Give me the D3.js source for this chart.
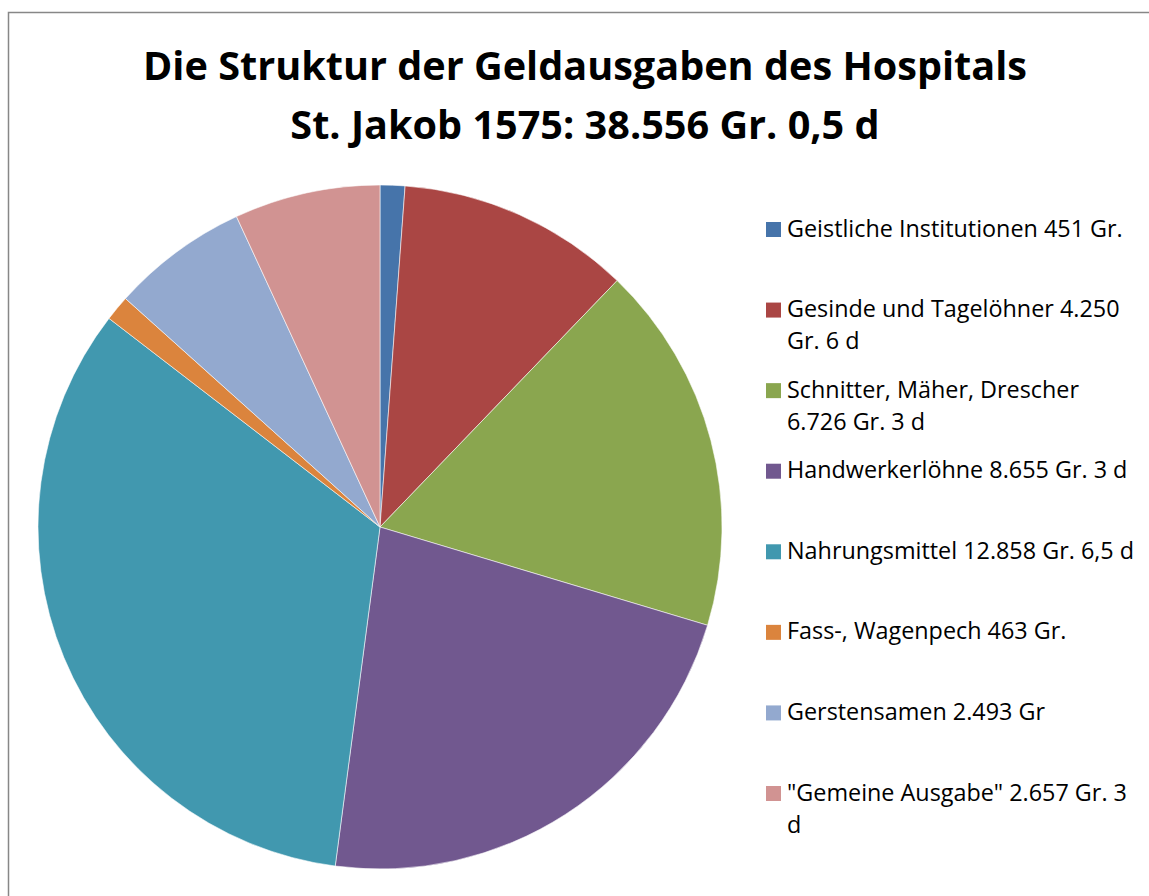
<!DOCTYPE html>
<html><head><meta charset="utf-8">
<script src="https://cdn.jsdelivr.net/npm/d3@7"></script>
<style>body{margin:0;background:#fff;}svg{display:block;}</style>
</head><body>
<svg id="c" width="1149" height="896"></svg>
<script>
const titleLines = ["Die Struktur der Geldausgaben des Hospitals", "St. Jakob 1575: 38.556 Gr. 0,5 d"];
const categories = [
  "Geistliche Institutionen 451 Gr.",
  "Gesinde und Tagelöhner 4.250\nGr. 6 d",
  "Schnitter, Mäher, Drescher\n6.726 Gr. 3 d",
  "Handwerkerlöhne 8.655 Gr. 3 d",
  "Nahrungsmittel 12.858 Gr. 6,5 d",
  "Fass-, Wagenpech 463 Gr.",
  "Gerstensamen 2.493 Gr",
  "\"Gemeine Ausgabe\" 2.657 Gr. 3\nd"
];
const values = [451, 4250.5, 6726.25, 8655.25, 12858.54, 463, 2493, 2657.25];
const colors = ["#4674AA", "#AA4644", "#8AA64F", "#71588F", "#4198AF", "#DB843D", "#93A9CF", "#D19392"];

const svg = d3.select("#c");
const font = "'Open Sans', sans-serif";

svg.append("rect").attr("x", 8.5).attr("y", 12.5).attr("width", 1200).attr("height", 1000)
  .attr("fill", "#fff").attr("stroke", "#878787").attr("stroke-width", 1.5);

// fit title to the reference width
const title = svg.append("text").attr("text-anchor", "middle")
  .attr("font-family", "'Open Sans', sans-serif").attr("font-weight", "bold").attr("font-size", 40).attr("fill", "#000");
titleLines.forEach((t, i) => {
  title.append("tspan").attr("x", 585).attr("y", 80 + i * 59).text(t);
});
const tw = title.select("tspan").node().getComputedTextLength();
title.attr("font-size", 40 * 884 / tw);

const cx = 380, cy = 527, r = 342;
const pie = d3.pie().sort(null).value(d => d);
const arc = d3.arc().innerRadius(0).outerRadius(r);
const g = svg.append("g").attr("transform", `translate(${cx},${cy})`);
g.selectAll("path").data(pie(values)).join("path")
  .attr("d", arc).attr("fill", (d, i) => colors[i])
  .attr("stroke", "#fff").attr("stroke-width", 0.8).attr("stroke-opacity", 0.7);

const legendY = d3.scalePoint().domain(d3.range(categories.length)).range([229.5, 793.5]);
const lg = svg.append("g").attr("font-family", font).attr("font-size", 20);
categories.forEach((c, i) => {
  const y = legendY(i);
  lg.append("rect").attr("x", 766).attr("y", y - 7.5).attr("width", 15).attr("height", 15).attr("fill", colors[i]);
  const t = lg.append("text").attr("fill", "#000");
  c.split("\n").forEach((line, j) => {
    t.append("tspan").attr("x", 787).attr("y", y + 7 + j * 32).text(line);
  });
});
const lw = lg.select("text tspan").node().getComputedTextLength();
lg.attr("font-size", 20 * 336 / lw);
</script>
</body></html>
